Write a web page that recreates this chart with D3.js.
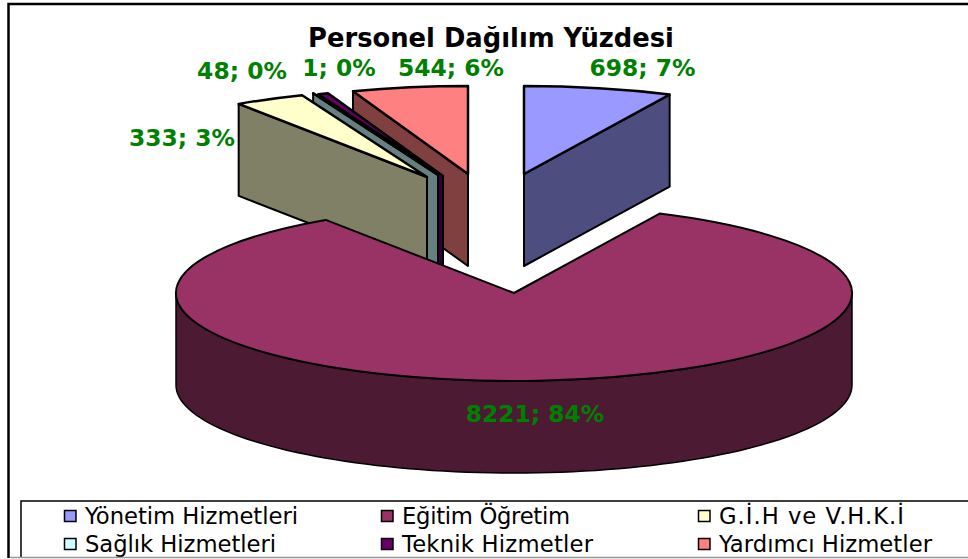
<!DOCTYPE html>
<html><head><meta charset="utf-8">
<script src="https://cdnjs.cloudflare.com/ajax/libs/d3/7.8.5/d3.min.js"></script>
<style>html,body{margin:0;padding:0;background:#fff}svg{display:block}text{font-family:"DejaVu Sans",Verdana,sans-serif}</style>
</head><body><svg id="c" width="968" height="559"></svg>
<script>
const categories = ["Yönetim Hizmetleri","Eğitim Öğretim","G.İ.H ve V.H.K.İ","Sağlık Hizmetleri","Teknik Hizmetler","Yardımcı Hizmetler"];
const values = [698,8221,333,1,48,544];
const percents = [7,84,3,0,0,6];
const topColors = ["#9999ff","#993366","#ffffcc","#ccffff","#660066","#ff8080"];
const title = "Personel Dağılım Yüzdesi";

// layout
const cx=514, cy=293, rx=338, ry=88, depth=92;
const explode = [[10,-119],[0,0],[-87,-116],[-76,-118],[-71,-117],[-46,-119]];
const labelPos = [[642.5,76],[535,422],[182,146],[339,76],[242,79],[451,76]];
const drawOrder = [5,4,3,2,0,1];
const legendWidths = [213,168,185,191,191,213];

const svg = d3.select("#c");
const k = ry/rx;
const slices = d3.pie().sort(null).value(d=>d)(values);
const arcGen = d3.arc().innerRadius(0).outerRadius(rx);
const sideColor = c => { const r=d3.rgb(c); return d3.rgb(r.r/2,r.g/2,r.b/2).formatHex(); };
const rim = (a,ox,oy,dz=0)=>[cx+ox+rx*Math.sin(a), cy+oy-ry*Math.cos(a)+dz];
const line = d3.line();

svg.append("rect").attr("x",8.5).attr("y",4).attr("width",975).attr("height",570).attr("fill","#fff").attr("stroke","#000").attr("stroke-width",2.5);

const pieG = svg.append("g").attr("stroke","#000").attr("stroke-linejoin","round");
drawOrder.forEach(i=>{
  const s=slices[i], [ox,oy]=explode[i], col=topColors[i];
  const g=pieG.append("g");
  const big = s.endAngle-s.startAngle>Math.PI;
  if(big){
    // outer wall along the front half of the rim
    const pts=d3.range(Math.PI/2,1.5*Math.PI+1e-6,Math.PI/90).map(a=>rim(a,ox,oy));
    const low=pts.slice().reverse().map(p=>[p[0],p[1]+depth]);
    g.append("path").attr("d",line(pts.concat(low))+"Z").attr("fill",sideColor(col)).attr("stroke-width",1.5);
  } else {
    // flat cut wall facing the viewer
    const a = i===0 ? s.endAngle : s.startAngle;
    const p=rim(a,ox,oy), q=[cx+ox,cy+oy];
    g.append("path").attr("d",line([q,p,[p[0],p[1]+depth],[q[0],q[1]+depth]])+"Z").attr("fill",sideColor(col)).attr("stroke-width",2);
  }
  g.append("path")
   .attr("transform",`translate(${cx+ox},${cy+oy}) scale(1,${k})`)
   .attr("d",arcGen(s)).attr("fill",col).attr("stroke-width",big?2:2.5).attr("vector-effect","non-scaling-stroke");
});

svg.append("text").attr("x",491).attr("y",47).attr("text-anchor","middle").attr("font-size",25.8).attr("font-weight","bold").attr("fill","#000").text(title);

svg.append("g").selectAll("text").data(values).join("text")
  .attr("x",(d,i)=>labelPos[i][0]).attr("y",(d,i)=>labelPos[i][1]).attr("text-anchor","middle")
  .attr("font-size",23.4).attr("font-weight","bold").attr("fill","#008000")
  .text((d,i)=>`${d}; ${percents[i]}%`);

// legend
svg.append("rect").attr("x",21).attr("y",501).attr("width",960).attr("height",70).attr("fill","#fff").attr("stroke","#000").attr("stroke-width",1.5);
const legX = d3.scalePoint().domain([0,1,2]).range([64.5,698.5]);
const legY = d3.scalePoint().domain([0,1]).range([516,544]);
const leg = svg.append("g").selectAll("g").data(categories).join("g")
  .attr("transform",(d,i)=>`translate(${legX(i%3)},${legY(Math.floor(i/3))})`);
leg.append("rect").attr("y",-5.5).attr("width",11.5).attr("height",11).attr("fill",(d,i)=>topColors[i]).attr("stroke","#000").attr("stroke-width",1.5);
leg.append("text").attr("x",20.5).attr("y",8).attr("font-size",22.7).attr("fill","#000")
  .attr("textLength",(d,i)=>legendWidths[i]).attr("lengthAdjust","spacing").text(d=>d);

svg.append("rect").attr("x",0).attr("y",558).attr("width",968).attr("height",1).attr("fill","#fff");
svg.append("line").attr("x1",10).attr("x2",968).attr("y1",557.5).attr("y2",557.5).attr("stroke","#999").attr("stroke-width",1.5);
</script></body></html>
